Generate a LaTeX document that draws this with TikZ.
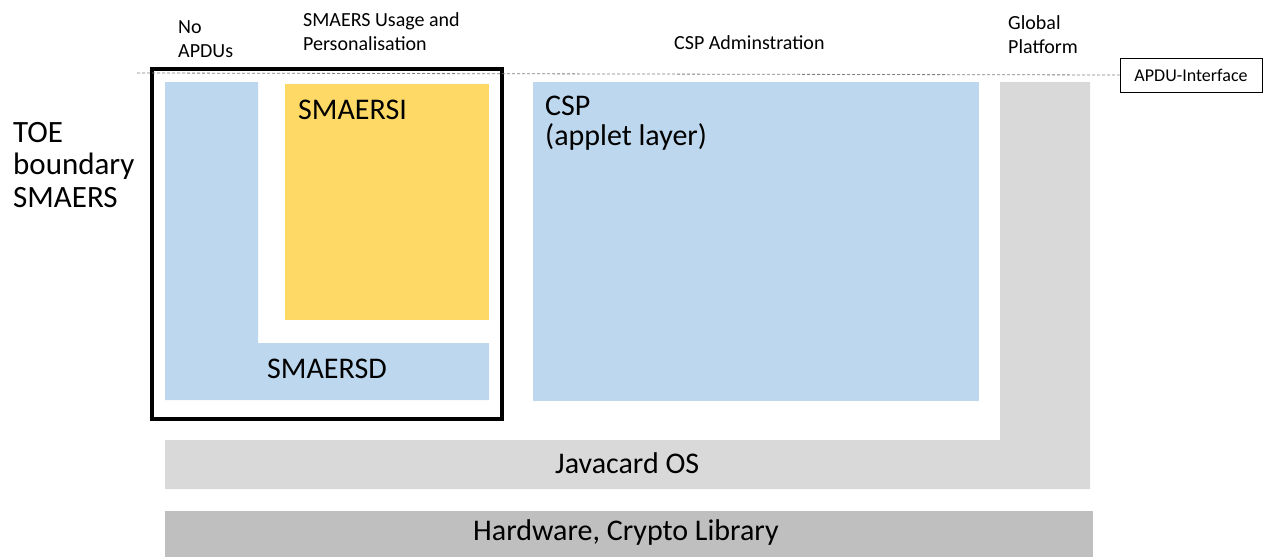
\documentclass[tikz,border=0pt]{standalone}
\usepackage{fontspec}
\setmainfont{Carlito}
\definecolor{lblue}{HTML}{BDD7EE}
\definecolor{lyellow}{HTML}{FFD966}
\definecolor{lgray}{HTML}{D9D9D9}
\definecolor{mgray}{HTML}{BFBFBF}
\begin{document}
\begin{tikzpicture}[x=1pt,y=-1pt,
  toplbl/.style={font=\fontsize{20}{24}\selectfont, inner sep=0pt, align=left, anchor=base west},
  biglbl/.style={font=\fontsize{30}{30}\selectfont, inner sep=0pt, align=left, anchor=base west},
  ifbox/.style={draw=black, line width=0.8pt, font=\fontsize{18}{22}\selectfont, minimum width=142pt, minimum height=34pt, inner sep=0pt},
  dashline/.style={draw=gray, line width=0.8pt, dash pattern=on 3pt off 2pt}]
\useasboundingbox (0,0) rectangle (1263,557);
% shapes
\fill[lblue] (165,82) -- (258,82) -- (258,343) -- (489,343) -- (489,400) -- (165,400) -- cycle;
\fill[lyellow] (285,84) rectangle (489,320);
\fill[lblue] (533,82) rectangle (979,401);
\fill[lgray] (1000,82) -- (1090,82) -- (1090,489) -- (165,489) -- (165,440) -- (1000,440) -- cycle;
\fill[mgray] (165,511) rectangle (1093,557);
\draw[line width=4pt] (152,69) rectangle (502,419);
% interface
\node[ifbox] (apdu) at (1191,75) {APDU-Interface};
\coordinate (dstart) at (137,73);
\draw[dashline] (dstart) -- (apdu.west);
% top labels (base = baseline of last line)
\node[toplbl] (noapdu) at (178,57) {No\\APDUs};
\node[toplbl] (usage) at (303,50) {SMAERS Usage and\\Personalisation};
\node[toplbl] (cspadm) at (674,49) {CSP Adminstration};
\node[toplbl] (gp) at (1008,53) {Global\\Platform};
% big labels
\node[biglbl, font=\fontsize{31}{32.5}\selectfont] (toe) at (13,207) {TOE\\boundary\\SMAERS};
\node[biglbl] (smaersi) at (298,119) {SMAERSI};
\node[biglbl] (smaersd) at (267,378) {SMAERSD};
\node[biglbl] (csp) at (545,145) {CSP\\(applet layer)};
\node[biglbl] (jcos) at (555,473) {Javacard OS};
\node[biglbl] (hw) at (473,540) {Hardware, Crypto Library};
\end{tikzpicture}
\end{document}
